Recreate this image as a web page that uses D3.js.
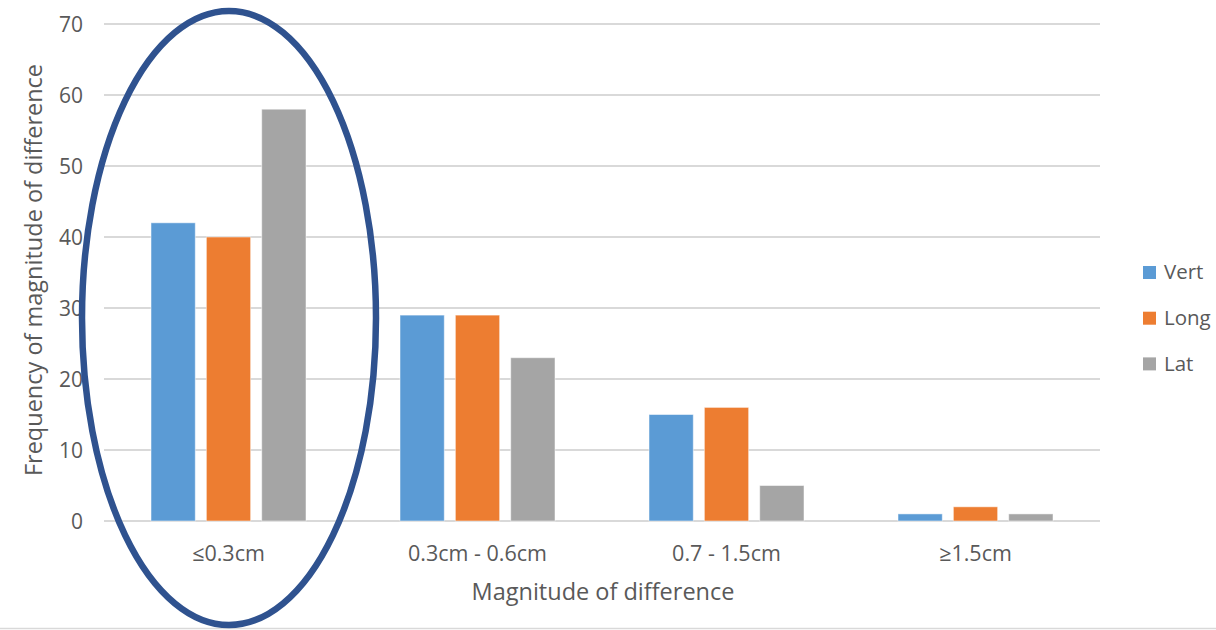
<!DOCTYPE html>
<html><head><meta charset="utf-8">
<script src="https://cdn.jsdelivr.net/npm/d3@7"></script>
<style>body{margin:0;background:#fff;} svg{display:block;} text{font-family:"Open Sans",sans-serif;fill:#595959;}</style>
</head><body>
<script>
const categories = ["≤0.3cm", "0.3cm - 0.6cm", "0.7 - 1.5cm", "≥1.5cm"];
const seriesNames = ["Vert", "Long", "Lat"];
const vert = [42, 29, 15, 1];
const long = [40, 29, 16, 2];
const lat = [58, 23, 5, 1];
const yTicks = [0, 10, 20, 30, 40, 50, 60, 70];
const colors = ["#5B9BD5", "#ED7D31", "#A5A5A5"];
const seriesValues = [vert, long, lat];

const W = 1216, H = 630;
const svg = d3.select("body").append("svg").attr("width", W).attr("height", H);

const x0 = d3.scaleBand().domain(categories).range([104, 1100]).padding(0);
const x1 = d3.scaleBand().domain(seriesNames).range([47, 202]).paddingInner(0.2);
const y = d3.scaleLinear().domain([0, 70]).range([521, 24]);

// gridlines
svg.append("g").selectAll("line").data(yTicks).join("line")
  .attr("x1", 104).attr("x2", 1100)
  .attr("y1", d => y(d)).attr("y2", d => y(d))
  .attr("stroke", "#D9D9D9").attr("stroke-width", 2);

// y tick labels
svg.append("g").selectAll("text").data(yTicks).join("text")
  .attr("x", 83).attr("y", d => y(d)).attr("dy", "0.36em")
  .attr("text-anchor", "end").attr("font-size", 21).text(d => d);

// bars
const groups = svg.append("g").selectAll("g").data(categories).join("g")
  .attr("transform", c => `translate(${x0(c)},0)`);
groups.selectAll("rect").data((c, i) => seriesNames.map((s, j) => ({s, j, v: seriesValues[j][i]})))
  .join("rect")
  .attr("x", d => x1(d.s)).attr("width", x1.bandwidth())
  .attr("y", d => y(d.v)).attr("height", d => y(0) - y(d.v))
  .attr("fill", d => colors[d.j])
  .attr("stroke", "#ffffff").attr("stroke-opacity", 0.5).attr("stroke-width", 1);

// category labels
svg.append("g").selectAll("text").data(categories).join("text")
  .attr("x", c => x0(c) + x0.bandwidth() / 2).attr("y", 561)
  .attr("text-anchor", "middle").attr("font-size", 21.5).text(c => c);

// axis titles
svg.append("text").attr("x", 603).attr("y", 600).attr("text-anchor", "middle")
  .attr("font-size", 23.5).text("Magnitude of difference");
svg.append("text").attr("transform", "translate(42,270) rotate(-90)")
  .attr("text-anchor", "middle").attr("font-size", 23.5)
  .text("Frequency of magnitude of difference");

// legend
const leg = svg.append("g").selectAll("g").data(seriesNames).join("g")
  .attr("transform", (d, i) => `translate(1143,${272 + i * 45.7})`);
leg.append("rect").attr("x", 0).attr("y", -6).attr("width", 13).attr("height", 13)
  .attr("fill", (d, i) => colors[i]);
leg.append("text").attr("x", 21).attr("y", 0).attr("dy", "0.36em")
  .attr("font-size", 20.5).text(d => d);

// bottom border
svg.append("line").attr("x1", 0).attr("x2", W).attr("y1", 628.5).attr("y2", 628.5)
  .attr("stroke", "#D9D9D9").attr("stroke-width", 1.5);

// ellipse highlight
svg.append("ellipse").attr("cx", 229).attr("cy", 318).attr("rx", 147).attr("ry", 307)
  .attr("fill", "none").attr("stroke", "#2F528F").attr("stroke-width", 6.5);
</script>
</body></html>
